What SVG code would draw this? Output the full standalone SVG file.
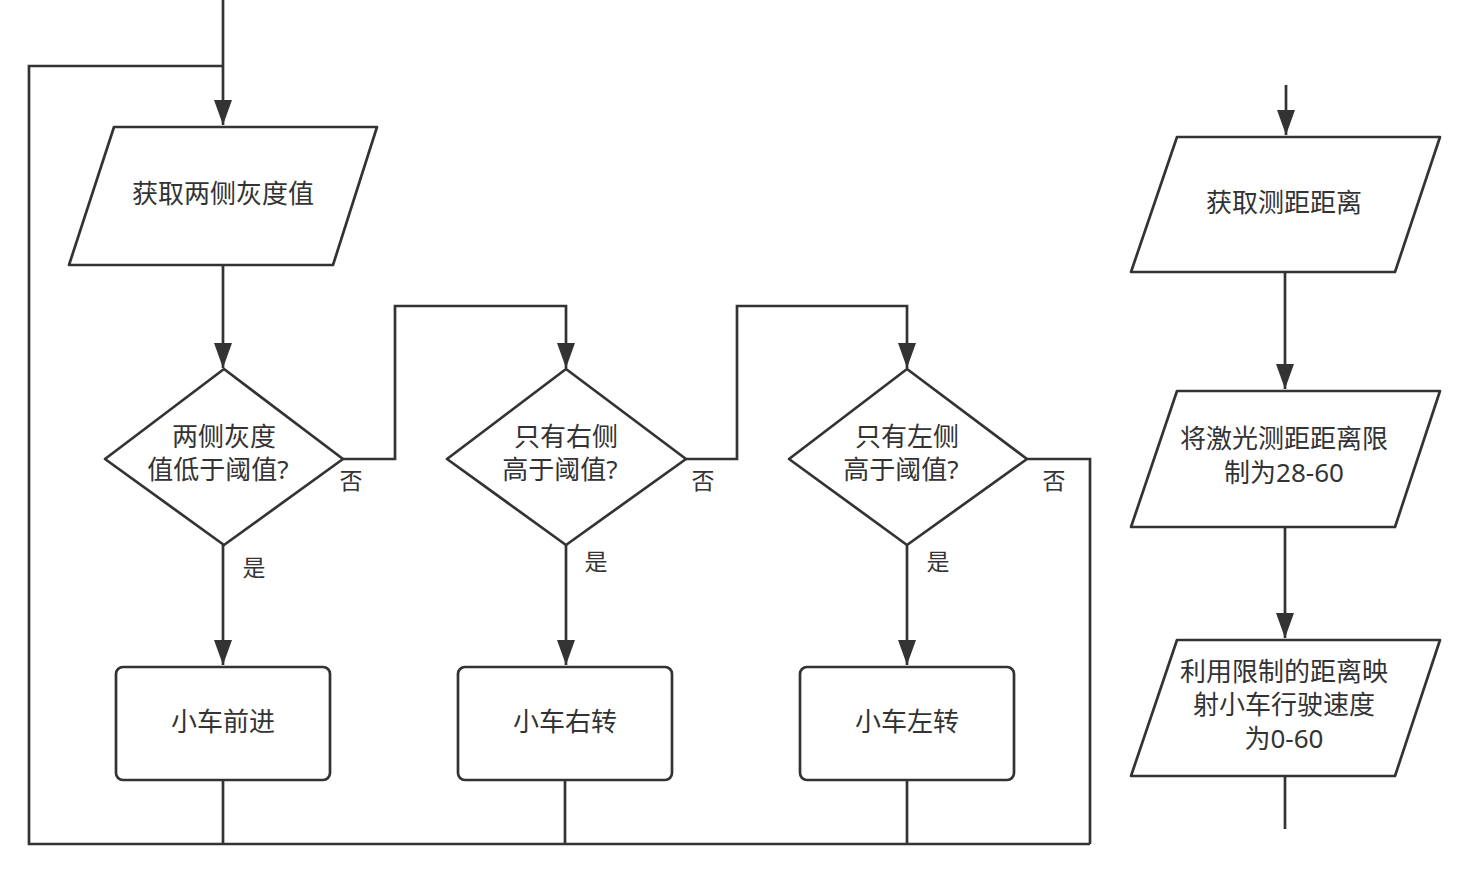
<svg xmlns="http://www.w3.org/2000/svg" width="1479" height="886" viewBox="0 0 1479 886">
<style>
.shape{fill:#fff;stroke:#333;stroke-width:2.7;stroke-linejoin:round}
.line{fill:none;stroke:#333;stroke-width:2.7}
.t{font-family:"Noto Sans","Noto Sans CJK SC",sans-serif;font-size:26px;fill:#333;text-anchor:middle;dominant-baseline:central}
.lbl{font-family:"Noto Sans","Noto Sans CJK SC",sans-serif;font-size:23px;fill:#333;text-anchor:middle;dominant-baseline:central}
</style>
<defs>
<marker id="arr" markerUnits="userSpaceOnUse" markerWidth="26" markerHeight="18" refX="25" refY="9" orient="auto">
<path d="M0,0 L25,9 L0,18 Z" fill="#333"/>
</marker>
</defs>
<rect width="1479" height="886" fill="#fff"/>
<g id="connectors">
<path class="line" d="M223,0 V125" marker-end="url(#arr)"/>
<path class="line" d="M223,66 H29 V844 H1090"/>
<path class="line" d="M223,265 V368" marker-end="url(#arr)"/>
<path class="line" d="M343,459 H395 V306 H566 V368" marker-end="url(#arr)"/>
<path class="line" d="M686,459 H737 V306 H907 V368" marker-end="url(#arr)"/>
<path class="line" d="M1027,459 H1090 V844"/>
<path class="line" d="M223,545 V665" marker-end="url(#arr)"/>
<path class="line" d="M566,545 V665" marker-end="url(#arr)"/>
<path class="line" d="M907,545 V665" marker-end="url(#arr)"/>
<path class="line" d="M223,780 V844"/>
<path class="line" d="M565,780 V844"/>
<path class="line" d="M907,780 V844"/>
<path class="line" d="M1286,85 V135" marker-end="url(#arr)"/>
<path class="line" d="M1285,272 V389" marker-end="url(#arr)"/>
<path class="line" d="M1285,527 V638" marker-end="url(#arr)"/>
<path class="line" d="M1285,776 V829"/>
<text class="lbl" x="351" y="480">否</text>
<text class="lbl" x="703" y="480">否</text>
<text class="lbl" x="1054" y="480">否</text>
<text class="lbl" x="254" y="567">是</text>
<text class="lbl" x="596" y="561">是</text>
<text class="lbl" x="938" y="561">是</text>
</g>
<g id="n1">
<polygon class="shape" points="114,127 377,127 333,265 69,265"/>
<text class="t" x="223" y="193">获取两侧灰度值</text>
</g>
<g id="d1">
<polygon class="shape" points="224,369 343,459 224,545 105,459"/>
<text class="t" x="224" y="436">两侧灰度</text>
<text class="t" x="218" y="469">值低于阈值?</text>
</g>
<g id="d2">
<polygon class="shape" points="566,369 686,459 566,545 447,459"/>
<text class="t" x="566" y="436">只有右侧</text>
<text class="t" x="560" y="469">高于阈值?</text>
</g>
<g id="d3">
<polygon class="shape" points="907,369 1027,459 907,545 789,459"/>
<text class="t" x="907" y="436">只有左侧</text>
<text class="t" x="901" y="469">高于阈值?</text>
</g>
<g id="r1">
<rect class="shape" x="116" y="667" width="214" height="113" rx="7"/>
<text class="t" x="223" y="721">小车前进</text>
</g>
<g id="r2">
<rect class="shape" x="458" y="667" width="214" height="113" rx="7"/>
<text class="t" x="565" y="721">小车右转</text>
</g>
<g id="r3">
<rect class="shape" x="800" y="667" width="214" height="113" rx="7"/>
<text class="t" x="907" y="721">小车左转</text>
</g>
<g id="p1">
<polygon class="shape" points="1177,137 1440,137 1395,272 1131,272"/>
<text class="t" x="1284" y="202">获取测距距离</text>
</g>
<g id="p2">
<polygon class="shape" points="1177,391 1440,391 1395,527 1131,527"/>
<text class="t" x="1284" y="438">将激光测距距离限</text>
<text class="t" x="1284" y="472">制为28-60</text>
</g>
<g id="p3">
<polygon class="shape" points="1177,640 1440,640 1395,776 1131,776"/>
<text class="t" x="1284" y="671">利用限制的距离映</text>
<text class="t" x="1284" y="704">射小车行驶速度</text>
<text class="t" x="1284" y="738">为0-60</text>
</g>
</svg>
